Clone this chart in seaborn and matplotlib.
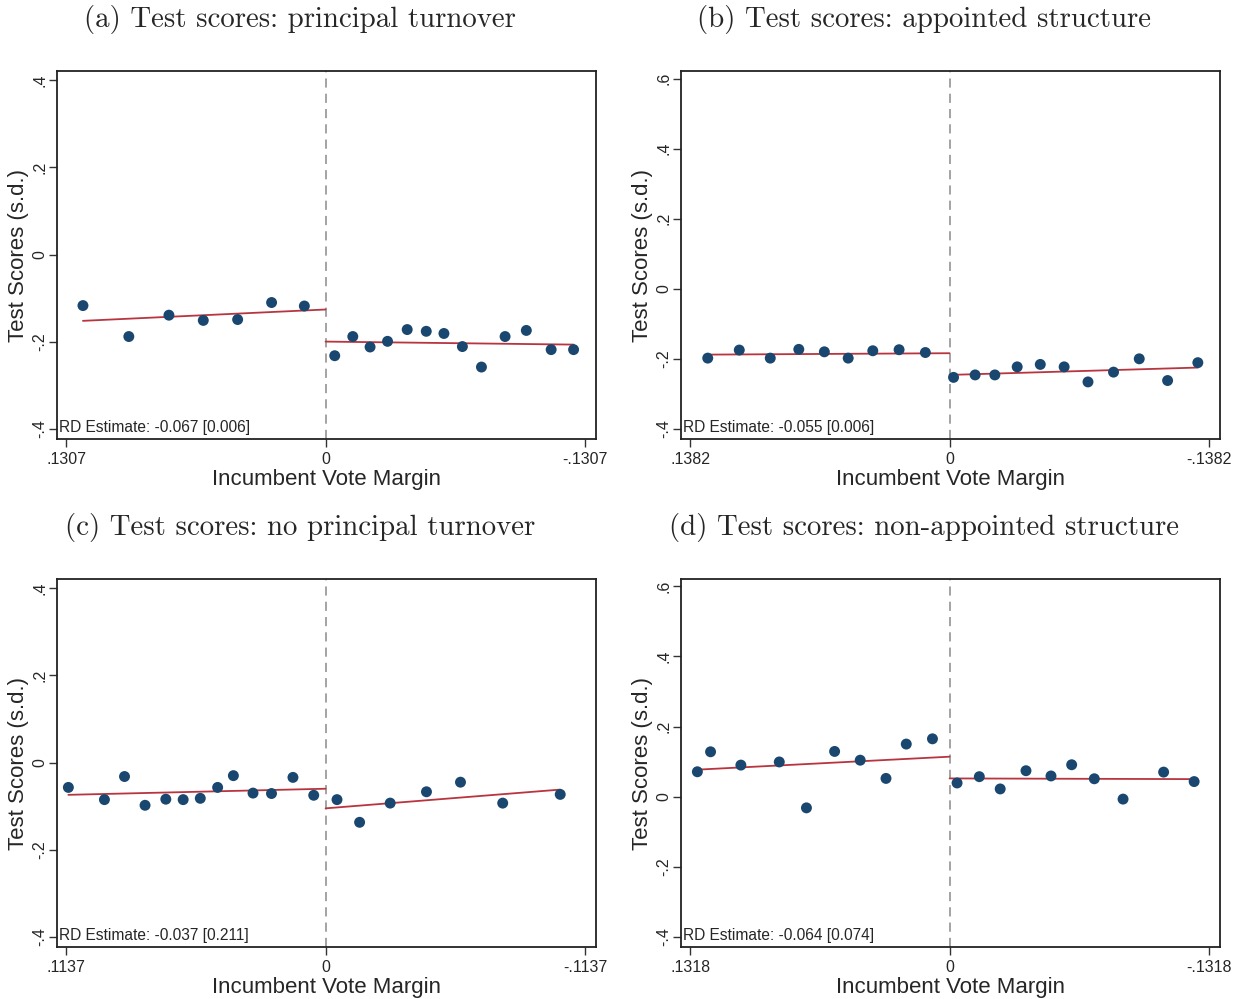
import matplotlib
matplotlib.use("Agg")
import pandas as pd
from matplotlib import pyplot as plt
import seaborn as sns

titles = [
    "(a) Test scores: principal turnover",
    "(b) Test scores: appointed structure",
    "(c) Test scores: no principal turnover",
    "(d) Test scores: non-appointed structure",
]
bandwidths = [0.1307, 0.1382, 0.1137, 0.1318]
rd_labels = [
    "RD Estimate: -0.067 [0.006]",
    "RD Estimate: -0.055 [0.006]",
    "RD Estimate: -0.037 [0.211]",
    "RD Estimate: -0.064 [0.074]",
]
yticks_small = [-0.4, -0.2, 0, 0.2, 0.4]
ylabels_small = ["-.4", "-.2", "0", ".2", ".4"]
yticks_big = [-0.4, -0.2, 0, 0.2, 0.4, 0.6]
ylabels_big = ["-.4", "-.2", "0", ".2", ".4", ".6"]

# binned means: incumbent vote margin / test score
a_x = [0.1222, 0.0991, 0.0789, 0.0616, 0.0443, 0.0272, 0.0107,
       -0.0046, -0.0137, -0.0224, -0.0312, -0.0411, -0.0507, -0.0596,
       -0.0689, -0.0785, -0.0904, -0.1011, -0.1136, -0.1249]
a_y = [-0.117, -0.188, -0.139, -0.151, -0.149, -0.110, -0.118,
       -0.232, -0.188, -0.212, -0.199, -0.172, -0.176, -0.181,
       -0.211, -0.258, -0.188, -0.174, -0.218, -0.218]
b_x = [0.1288, 0.1120, 0.0955, 0.0803, 0.0667, 0.0540, 0.0409, 0.0269, 0.0129,
       -0.0021, -0.0136, -0.0241, -0.0360, -0.0483, -0.0610, -0.0737,
       -0.0873, -0.1010, -0.1161, -0.1322]
b_y = [-0.198, -0.175, -0.198, -0.173, -0.180, -0.198, -0.177, -0.174, -0.182,
       -0.253, -0.246, -0.246, -0.223, -0.216, -0.223, -0.266,
       -0.238, -0.200, -0.262, -0.211]
c_x = [0.1127, 0.0969, 0.0881, 0.0791, 0.0700, 0.0624, 0.0549, 0.0473,
       0.0404, 0.0318, 0.0237, 0.0143, 0.0052,
       -0.0050, -0.0149, -0.0283, -0.0442, -0.0591, -0.0776, -0.1028]
c_y = [-0.057, -0.085, -0.032, -0.098, -0.084, -0.085, -0.082, -0.057,
       -0.030, -0.070, -0.071, -0.034, -0.075,
       -0.085, -0.137, -0.093, -0.067, -0.045, -0.093, -0.073]
d_x = [0.1281, 0.1214, 0.1060, 0.0865, 0.0727, 0.0584, 0.0454, 0.0323, 0.0220, 0.0087,
       -0.0038, -0.0151, -0.0257, -0.0388, -0.0515, -0.0620, -0.0735,
       -0.0881, -0.1087, -0.1242]
d_y = [0.071, 0.128, 0.090, 0.099, -0.032, 0.129, 0.104, 0.052, 0.150, 0.165,
       0.039, 0.057, 0.022, 0.074, 0.059, 0.091, 0.051,
       -0.007, 0.070, 0.043]

# fitted lines: value at outer end, value at cutoff
a_fit_left, a_fit_right = [-0.152, -0.126], [-0.2065, -0.1996]
b_fit_left, b_fit_right = [-0.188, -0.184], [-0.225, -0.246]
c_fit_left, c_fit_right = [-0.074, -0.060], [-0.062, -0.105]
d_fit_left, d_fit_right = [0.077, 0.114], [0.050, 0.052]

panels = [
    (a_x, a_y, a_fit_left, a_fit_right, yticks_small, ylabels_small, (-0.423, 0.421)),
    (b_x, b_y, b_fit_left, b_fit_right, yticks_big, ylabels_big, (-0.429, 0.622)),
    (c_x, c_y, c_fit_left, c_fit_right, yticks_small, ylabels_small, (-0.423, 0.421)),
    (d_x, d_y, d_fit_left, d_fit_right, yticks_big, ylabels_big, (-0.429, 0.621)),
]

sns.set_style("ticks")
plt.rcParams["font.family"] = ["Liberation Sans", "DejaVu Sans"]

W, H = 1244, 999
fig = plt.figure(figsize=(W / 100, H / 100), dpi=100)

frames = [(57, 71), (681, 71), (57, 579), (681, 579)]
title_pos = [(300, 20), (924, 20), (300, 528), (924, 528)]
fw, fh = 539, 368

for i, (xs, ys, fl, fr, yt, yl, ylim) in enumerate(panels):
    left, top = frames[i]
    ax = fig.add_axes([left / W, 1 - (top + fh) / H, fw / W, fh / H])
    bw = bandwidths[i]
    df = pd.DataFrame({"margin": xs, "score": ys})

    ax.axvline(0, color="#8a8a8a", lw=1.1, ls=(0, (6, 4)), zorder=1)
    ax.plot([max(xs), 0], fl, color="#b8353f", lw=1.3, zorder=2)
    ax.plot([min(xs), 0], fr, color="#b8353f", lw=1.3, zorder=2)
    sns.scatterplot(data=df, x="margin", y="score", ax=ax, color="#1a476f",
                    s=62, edgecolor="none", zorder=3, legend=False)

    ax.set_xlim(bw * 1.035, -bw * 1.042)
    ax.set_ylim(*ylim)
    ax.set_xticks([bw, 0, -bw])
    ax.set_xticklabels([f"{bw:.4f}".lstrip("0"), "0", "-" + f"{bw:.4f}".lstrip("0")],
                       fontsize=11.5)
    ax.set_yticks(yt)
    ax.set_yticklabels(yl, fontsize=11.5, rotation=90, va="center")
    ax.tick_params(axis="x", length=6, width=1, color="#333333", pad=3)
    ax.tick_params(axis="y", length=6, width=1, color="#333333", pad=1)
    for s in ax.spines.values():
        s.set_visible(True)
        s.set_linewidth(1.3)
        s.set_color("#222222")

    ax.set_xlabel("Incumbent Vote Margin", fontsize=16, labelpad=2)
    ax.set_ylabel("Test Scores (s.d.)", fontsize=16)
    ax.yaxis.set_label_coords(-28 / fw, 0.5)
    ax.text(0.004, 0.012, rd_labels[i], transform=ax.transAxes, fontsize=11.2,
            ha="left", va="bottom")

    tx, ty = title_pos[i]
    fig.text(tx / W, 1 - ty / H, titles[i], family="cmr10", fontsize=20.8,
             ha="center", va="center")

fig.savefig("out.png", dpi=100)
